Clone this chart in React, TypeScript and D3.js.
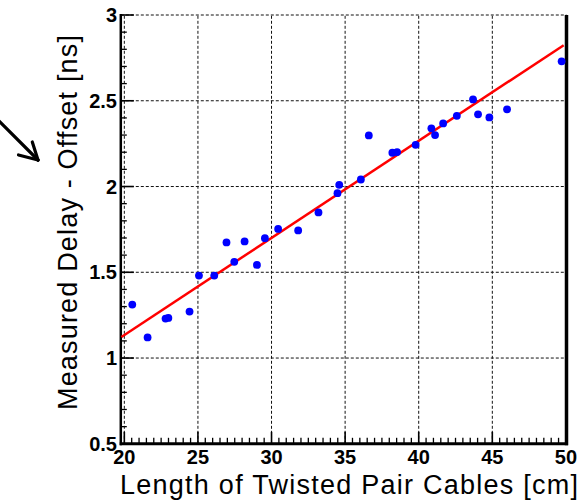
import React from 'react';
import * as d3 from 'd3';

const lengthCm = [20.54, 21.58, 22.80, 22.99, 24.43, 25.07, 26.11, 26.94, 27.47, 28.17, 29.01, 29.55, 30.45, 31.81, 33.19, 34.48, 34.60, 36.07, 36.61, 38.21, 38.53, 39.79, 40.86, 41.11, 41.66, 42.59, 43.69, 44.03, 44.80, 46.00, 49.71];
const delayNs = [1.312, 1.120, 1.230, 1.234, 1.271, 1.481, 1.481, 1.674, 1.561, 1.680, 1.543, 1.699, 1.753, 1.744, 1.849, 1.961, 2.010, 2.041, 2.298, 2.197, 2.201, 2.243, 2.339, 2.300, 2.368, 2.412, 2.508, 2.421, 2.403, 2.450, 2.730];

const xTicks = [20, 25, 30, 35, 40, 45, 50];
const yTicks = [0.5, 1, 1.5, 2, 2.5, 3];
const yTickLabels = ['0.5', '1', '1.5', '2', '2.5', '3'];
const fitX = [19.8, 49.85];
const fitY = [1.123, 2.824];

const W = 582, H = 501;
const L = 120.8, R = 566.5, T = 15, B = 443.8;

export default function App() {
  const x = d3.scaleLinear().domain([19.76, 50.04]).range([L, R]);
  const y = d3.scaleLinear().domain([0.5, 3]).range([B, T]);
  const xMinor = d3.range(20, 50.001, 0.5).filter(v => Math.abs(v / 5 - Math.round(v / 5)) > 1e-6);
  const yMinor = d3.range(0.5, 3.0001, 0.1).filter(v => Math.abs(v / 0.5 - Math.round(v / 0.5)) > 1e-6);
  const fitLine = d3.line<number>().x((d, i) => x(fitX[i])).y((d, i) => y(fitY[i]));
  const tickFont = "'Liberation Sans', Arial, Helvetica, sans-serif";
  return (
    <svg width={W} height={H} style={{ position: 'absolute', left: 0, top: 0, background: '#fff' }}>
      <rect x={0} y={0} width={W} height={H} fill="#fff" />
      {/* grid */}
      {xTicks.map(v => (
        <line key={'gx' + v} x1={x(v)} x2={x(v)} y1={B} y2={T} stroke="#111" strokeWidth={1} strokeDasharray="3,2" />
      ))}
      {yTicks.slice(1).map(v => (
        <line key={'gy' + v} x1={L} x2={R} y1={y(v)} y2={y(v)} stroke="#111" strokeWidth={1} strokeDasharray="3,2" />
      ))}
      {/* ticks */}
      {xTicks.map(v => (
        <line key={'tx' + v} x1={x(v)} x2={x(v)} y1={B} y2={B - 12} stroke="#000" strokeWidth={1.6} />
      ))}
      {xMinor.map(v => (
        <line key={'mx' + v} x1={x(v)} x2={x(v)} y1={B} y2={B - 6} stroke="#000" strokeWidth={1.3} />
      ))}
      {yTicks.map(v => (
        <line key={'ty' + v} x1={L} x2={L + 13} y1={y(v)} y2={y(v)} stroke="#000" strokeWidth={1.6} />
      ))}
      {yMinor.map(v => (
        <line key={'my' + v} x1={L} x2={L + 6} y1={y(v)} y2={y(v)} stroke="#000" strokeWidth={1.3} />
      ))}
      {/* frame */}
      <line x1={L} x2={L} y1={T - 1} y2={B + 1.5} stroke="#000" strokeWidth={2.5} />
      <line x1={L - 1} x2={R + 1.5} y1={B} y2={B} stroke="#000" strokeWidth={3} />
      <line x1={R} x2={R} y1={T} y2={B + 1.5} stroke="#000" strokeWidth={3.5} />
      {/* fit */}
      <path d={fitLine(fitX) || ''} fill="none" stroke="#ff0000" strokeWidth={2.5} />
      {/* points */}
      {lengthCm.map((v, i) => (
        <circle key={'p' + i} cx={x(v)} cy={y(delayNs[i])} r={3.9} fill="#0000ff" />
      ))}
      {/* tick labels */}
      {xTicks.map(v => (
        <text key={'lx' + v} x={x(v)} y={464} textAnchor="middle" fontFamily={tickFont} fontWeight="bold" fontSize={20}>{v}</text>
      ))}
      {yTicks.map((v, i) => (
        <text key={'ly' + v} x={117} y={y(v) + 7} textAnchor="end" fontFamily={tickFont} fontWeight="bold" fontSize={20}>{yTickLabels[i]}</text>
      ))}
      {/* axis titles */}
      <text x={578} y={494} textAnchor="end" fontFamily={tickFont} fontSize={27} textLength={458} lengthAdjust="spacing">Length of Twisted Pair Cables [cm]</text>
      <text transform="translate(77,410) rotate(-90)" x={0} y={0} textAnchor="start" fontFamily={tickFont} fontSize={27} textLength={375} lengthAdjust="spacing">Measured Delay - Offset [ns]</text>
      {/* arrow */}
      <g stroke="#000" strokeWidth={3.2} fill="none" strokeLinecap="round">
        <line x1={-2} y1={120} x2={38} y2={160} />
        <line x1={38} y1={160} x2={32.3} y2={142} />
        <line x1={38} y1={160} x2={18.5} y2={155} />
      </g>
    </svg>
  );
}
